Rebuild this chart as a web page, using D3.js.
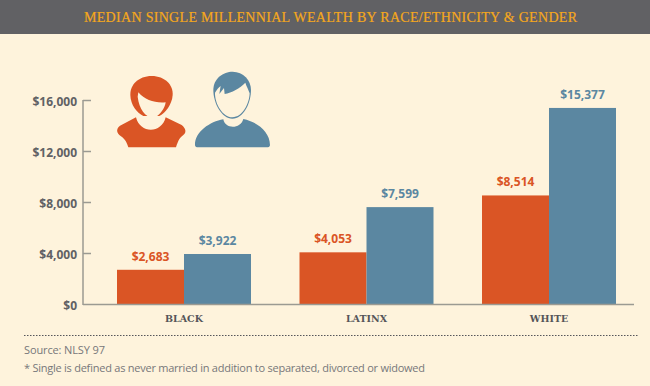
<!DOCTYPE html>
<html>
<head>
<meta charset="utf-8">
<script src="https://cdn.jsdelivr.net/npm/d3@7"></script>
<style>
    html, body { margin: 0; padding: 0; background: #fef3dc; }
    svg { display: block; }
</style>
</head>
<body>
<svg></svg>
<script>
let categories = ['BLACK', 'LATINX', 'WHITE']
let women = [2683, 4053, 8514]
let men = [3922, 7599, 15377]
let y_ticks = [0, 4000, 8000, 12000, 16000]

let width = 650
let height = 386
let orange = '#da5525'
let blue = '#5b87a1'
let label_font = '"Open Sans", "DejaVu Sans", sans-serif'
let serif_font = '"Liberation Serif", Georgia, serif'
let slab_font = '"DejaVu Serif", Georgia, serif'

let svg = d3.select('svg')
    .attr('width', width)
    .attr('height', height)
    .attr('viewBox', `0 0 ${width} ${height}`)

svg.append('rect')
    .attr('width', width)
    .attr('height', height)
    .attr('fill', '#fef3dc')

// Header
svg.append('rect')
    .attr('width', width)
    .attr('height', 34)
    .attr('fill', '#616164')

svg.append('text')
    .attr('x', 84)
    .attr('y', 21.5)
    .attr('fill', '#f5a81c')
    .attr('stroke', '#f5a81c')
    .attr('stroke-width', 0.2)
    .style('font', `14px ${serif_font}`)
    .attr('textLength', 493)
    .text('MEDIAN SINGLE MILLENNIAL WEALTH BY RACE/ETHNICITY & GENDER')

// Scales
let scale = {
    x: d3.scaleBand().domain(categories).range([117, 616]).paddingInner(0.2658).paddingOuter(0),
    y: d3.scaleLinear().domain([0, 16000]).range([304, 100])
}
let bar_width = scale.x.bandwidth() / 2

// Y axis
let axis_y = d3.axisLeft(scale.y)
    .tickValues(y_ticks)
    .tickSize(0)
    .tickPadding(6)
    .tickFormat(d => '$' + d3.format(',')(d))

let y_group = svg.append('g')
    .attr('transform', 'translate(83,0)')
    .call(axis_y)

y_group.select('.domain').remove()
y_group.selectAll('text')
    .attr('fill', '#616164')
    .attr('dy', '0.42em')
    .style('font', `bold 12px ${label_font}`)

// Ticks point into the plot
y_group.selectAll('.tick')
    .filter(d => d > 0)
    .append('line')
    .attr('x2', 8)
    .attr('stroke', '#9b9a92')
    .attr('stroke-width', 1.5)

// Bars
let groups = svg.selectAll('.group')
    .data(categories)
    .enter()
    .append('g')
    .attr('class', 'group')
    .attr('transform', d => `translate(${scale.x(d)},0)`)

groups.append('rect')
    .attr('width', bar_width)
    .attr('y', (d, i) => scale.y(women[i]))
    .attr('height', (d, i) => scale.y(0) - scale.y(women[i]))
    .attr('fill', orange)

groups.append('rect')
    .attr('x', bar_width)
    .attr('width', bar_width)
    .attr('y', (d, i) => scale.y(men[i]))
    .attr('height', (d, i) => scale.y(0) - scale.y(men[i]))
    .attr('fill', blue)

// Bar labels
groups.append('text')
    .attr('x', bar_width / 2)
    .attr('y', (d, i) => scale.y(women[i]) - 9)
    .attr('text-anchor', 'middle')
    .attr('fill', orange)
    .style('font', `bold 12px ${label_font}`)
    .text((d, i) => '$' + d3.format(',')(women[i]))

groups.append('text')
    .attr('x', bar_width * 1.5)
    .attr('y', (d, i) => scale.y(men[i]) - 9)
    .attr('text-anchor', 'middle')
    .attr('fill', blue)
    .style('font', `bold 12px ${label_font}`)
    .text((d, i) => '$' + d3.format(',')(men[i]))

// Category labels
groups.append('text')
    .attr('x', bar_width)
    .attr('y', 322)
    .attr('text-anchor', 'middle')
    .attr('fill', '#555559')
    .style('font', `bold 9.5px ${slab_font}`)
    .text(d => d)

// Axis lines
svg.append('line')
    .attr('x1', 83).attr('x2', 83)
    .attr('y1', 100).attr('y2', 305)
    .attr('stroke', '#9b9a92')
    .attr('stroke-width', 1.5)

svg.append('line')
    .attr('x1', 83).attr('x2', 634)
    .attr('y1', 304.5).attr('y2', 304.5)
    .attr('stroke', '#9b9a92')
    .attr('stroke-width', 1.5)

// Icons
let icons = svg.append('g')
    .attr('transform', 'translate(100,60) scale(0.3333)')

icons.append('path')
    .attr('fill', orange)
    .attr('d', 'M155 48 C195 48 220 75 218 105 C216 135 195 160 178 168 L130 168 C110 158 92 135 91 105 C90 75 115 48 155 48 Z')
icons.append('path')
    .attr('fill', '#fef3dc')
    .attr('d', 'M115 97 C135 120 165 130 197 127 C195 145 180 165 165 172 C140 178 118 150 113 110 Z')
icons.append('path')
    .attr('fill', orange)
    .attr('d', 'M108 172 C120 222 185 222 197 172 L245 195 C258 205 260 218 250 225 C240 232 235 240 228 262 L85 262 C78 240 72 235 58 225 C48 215 50 205 60 197 Z')

icons.append('path')
    .attr('fill', blue)
    .attr('d', 'M340 90 C340 55 370 35 398 35 C430 35 453 60 453 90 C453 130 430 176 397 176 C365 176 340 130 340 90 Z')
icons.append('path')
    .attr('fill', '#fef3dc')
    .attr('d', 'M345 98 C350 90 356 82 362 78 L358 102 L372 84 L374 102 C395 98 420 85 436 68 C440 80 446 90 449 100 C448 130 428 172 397 172 C368 172 344 130 345 98 Z')
icons.append('path')
    .attr('fill', blue)
    .attr('d', 'M370 178 C375 208 422 208 430 177 C470 185 510 215 510 255 Q510 262 500 262 L295 262 Q285 262 285 255 C285 215 330 185 370 178 Z')

// Footer
svg.append('line')
    .attr('x1', 24).attr('x2', 638)
    .attr('y1', 335.5).attr('y2', 335.5)
    .attr('stroke', '#55555a')
    .attr('stroke-dasharray', '1.5 1.5')

svg.append('text')
    .attr('x', 24)
    .attr('y', 354)
    .attr('fill', '#77777a')
    .style('font', `11px ${label_font}`)
    .attr('textLength', 81)
    .text('Source: NLSY 97')

svg.append('text')
    .attr('x', 24)
    .attr('y', 372)
    .attr('fill', '#77777a')
    .style('font', `11px ${label_font}`)
    .attr('textLength', 401)
    .text('* Single is defined as never married in addition to separated, divorced or widowed')
</script>
</body>
</html>
